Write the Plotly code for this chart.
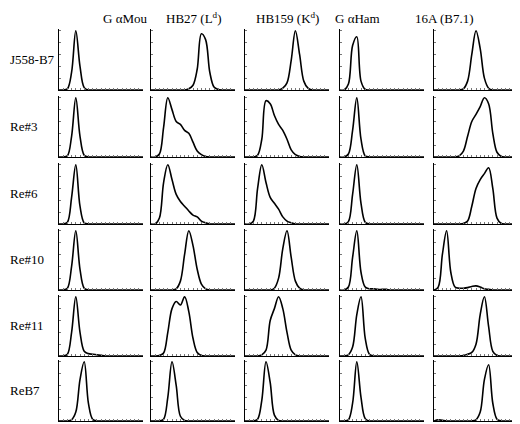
import plotly.graph_objects as go

columns = ["G \u03b1Mou", "HB27 (L<sup>d</sup>)", "HB159 (K<sup>d</sup>)", "G \u03b1Ham", "16A (B7.1)"]
rows = ["J558-B7", "Re#3", "Re#6", "Re#10", "Re#11", "ReB7"]

channel = list(range(21))

# cell counts per channel, one list per row, one entry per column
j558_b7 = [
    [0, 0, 0.02, 0.3, 1.0, 0.4, 0.04, 0, 0, 0, 0, 0, 0, 0, 0, 0, 0, 0, 0, 0, 0],
    [0, 0, 0, 0, 0, 0, 0, 0, 0, 0.02, 0.08, 0.35, 0.95, 0.85, 0.3, 0.05, 0.01, 0, 0, 0, 0],
    [0, 0, 0, 0, 0, 0, 0, 0, 0, 0.03, 0.12, 0.5, 1.0, 0.6, 0.15, 0.03, 0, 0, 0, 0, 0],
    [0, 0, 0.1, 0.75, 0.9, 0.15, 0.01, 0, 0, 0, 0, 0, 0, 0, 0, 0, 0, 0, 0, 0, 0],
    [0, 0, 0, 0, 0, 0, 0, 0.02, 0.15, 0.6, 1.0, 0.7, 0.2, 0.03, 0, 0, 0, 0, 0, 0, 0],
]
re3 = [
    [0, 0, 0.02, 0.35, 1.0, 0.35, 0.03, 0, 0, 0, 0, 0, 0, 0, 0, 0, 0, 0, 0, 0, 0],
    [0, 0, 0.05, 0.5, 1.0, 0.8, 0.6, 0.55, 0.45, 0.4, 0.25, 0.1, 0.04, 0.01, 0, 0, 0, 0, 0, 0, 0],
    [0, 0, 0, 0.03, 0.3, 0.95, 0.9, 0.7, 0.55, 0.45, 0.3, 0.12, 0.04, 0.01, 0, 0, 0, 0, 0, 0, 0],
    [0, 0, 0.05, 0.45, 1.0, 0.3, 0.02, 0, 0, 0, 0, 0, 0, 0, 0, 0, 0, 0, 0, 0, 0],
    [0, 0, 0, 0, 0, 0, 0.02, 0.1, 0.35, 0.6, 0.72, 0.85, 1.0, 0.9, 0.4, 0.08, 0.01, 0, 0, 0, 0],
]
re6 = [
    [0, 0, 0.03, 0.45, 1.0, 0.3, 0.02, 0, 0, 0, 0, 0, 0, 0, 0, 0, 0, 0, 0, 0, 0],
    [0, 0, 0.1, 0.7, 1.0, 0.75, 0.5, 0.38, 0.3, 0.22, 0.15, 0.12, 0.05, 0.02, 0, 0, 0, 0, 0, 0, 0],
    [0, 0, 0.05, 0.6, 1.0, 0.7, 0.45, 0.35, 0.25, 0.12, 0.05, 0.02, 0, 0, 0, 0, 0, 0, 0, 0, 0],
    [0, 0, 0.04, 0.5, 1.0, 0.35, 0.03, 0, 0, 0, 0, 0, 0, 0, 0, 0, 0, 0, 0, 0, 0],
    [0, 0, 0, 0, 0, 0, 0, 0.01, 0.05, 0.3, 0.6, 0.75, 0.85, 0.95, 0.6, 0.1, 0.01, 0, 0, 0, 0],
]
re10 = [
    [0, 0, 0.03, 0.4, 1.0, 0.35, 0.03, 0, 0, 0, 0, 0, 0, 0, 0, 0, 0, 0, 0, 0, 0],
    [0, 0, 0, 0, 0, 0, 0.02, 0.15, 0.6, 1.0, 0.75, 0.35, 0.1, 0.02, 0, 0, 0, 0, 0, 0, 0],
    [0, 0, 0, 0, 0, 0, 0, 0.03, 0.2, 0.7, 1.0, 0.55, 0.15, 0.03, 0, 0, 0, 0, 0, 0, 0],
    [0, 0, 0.05, 0.55, 1.0, 0.3, 0.05, 0.02, 0.02, 0.01, 0.01, 0.01, 0, 0, 0, 0, 0, 0, 0, 0, 0],
    [0, 0.05, 0.6, 1.0, 0.3, 0.05, 0.03, 0.03, 0.04, 0.06, 0.07, 0.05, 0.02, 0.01, 0, 0, 0, 0, 0, 0, 0],
]
re11 = [
    [0, 0, 0.03, 0.4, 1.0, 0.4, 0.08, 0.04, 0.03, 0.02, 0.01, 0, 0, 0, 0, 0, 0, 0, 0, 0, 0],
    [0, 0, 0.01, 0.05, 0.4, 0.8, 0.92, 0.86, 1.0, 0.75, 0.3, 0.06, 0.01, 0, 0, 0, 0, 0, 0, 0, 0],
    [0, 0, 0, 0, 0.02, 0.1, 0.6, 0.8, 1.0, 0.8, 0.4, 0.1, 0.02, 0, 0, 0, 0, 0, 0, 0, 0],
    [0, 0, 0.02, 0.15, 0.7, 1.0, 0.3, 0.03, 0, 0, 0, 0, 0, 0, 0, 0, 0, 0, 0, 0, 0],
    [0, 0, 0, 0, 0, 0, 0, 0.01, 0.03, 0.06, 0.2, 0.7, 1.0, 0.5, 0.08, 0.01, 0, 0, 0, 0, 0],
]
reb7 = [
    [0, 0, 0, 0.02, 0.15, 0.7, 1.0, 0.3, 0.03, 0, 0, 0, 0, 0, 0, 0, 0, 0, 0, 0, 0],
    [0, 0, 0, 0.03, 0.4, 1.0, 0.6, 0.08, 0.01, 0, 0, 0, 0, 0, 0, 0, 0, 0, 0, 0, 0],
    [0, 0, 0, 0.03, 0.35, 1.0, 0.65, 0.1, 0.01, 0, 0, 0, 0, 0, 0, 0, 0, 0, 0, 0, 0],
    [0, 0, 0.02, 0.3, 1.0, 0.4, 0.04, 0, 0, 0, 0, 0, 0, 0, 0, 0, 0, 0, 0, 0, 0],
    [0, 0.02, 0.01, 0, 0, 0, 0, 0, 0, 0, 0.02, 0.15, 0.7, 0.95, 0.3, 0.03, 0, 0, 0, 0, 0],
]
counts = [j558_b7, re3, re6, re10, re11, reb7]

# page body has an 8px margin, so the figure is drawn 8px in and kept 8px smaller
OFF = 8
W, H = 520 - OFF, 424 - OFF
col_left = [59, 151, 245, 340, 434]
col_w = 84
row_bottom = [90, 157, 224, 290, 356, 421]
row_h = 61

fig = go.Figure()
layout = dict(width=W, height=H, margin=dict(l=0, r=0, t=0, b=0),
              plot_bgcolor="white", paper_bgcolor="white", showlegend=False,
              font=dict(family="Liberation Serif", color="black", size=13))
annotations = []

n = 0
for r, row in enumerate(counts):
    for c, y in enumerate(row):
        n += 1
        sfx = "" if n == 1 else str(n)
        fig.add_trace(go.Scatter(x=channel, y=y, mode="lines", line=dict(color="black", width=1.6, shape="spline"),
                                 xaxis="x" + sfx, yaxis="y" + sfx, hoverinfo="skip"))
        x0 = (col_left[c] - OFF) / W
        x1 = (col_left[c] - OFF + col_w) / W
        y0 = 1 - (row_bottom[r] - OFF) / H
        y1 = 1 - (row_bottom[r] - OFF - row_h) / H
        layout["xaxis" + sfx] = dict(domain=[x0, x1], range=[0, 20], anchor="y" + sfx, showgrid=False,
                                     zeroline=False, showline=True, linecolor="black", linewidth=1,
                                     ticks="inside", ticklen=2, dtick=1, tickcolor="#777",
                                     showticklabels=False)
        layout["yaxis" + sfx] = dict(domain=[y0, y1], range=[0, 1.03], anchor="x" + sfx, showgrid=False,
                                     zeroline=False, showline=True, linecolor="black", linewidth=1,
                                     ticks="inside", ticklen=2, dtick=0.2, tickcolor="#777",
                                     showticklabels=False)

for c, name in enumerate(columns):
    annotations.append(dict(text=name, x=(col_left[c] - OFF + col_w / 2) / W, y=1 - (18 - OFF) / H,
                            xref="paper", yref="paper", yanchor="middle",
                            showarrow=False, font=dict(size=13)))
for r, name in enumerate(rows):
    annotations.append(dict(text=name, x=0, y=1 - (row_bottom[r] - OFF - row_h / 2) / H,
                            xref="paper", yref="paper", xanchor="left", yanchor="middle",
                            showarrow=False, font=dict(size=13)))
layout["annotations"] = annotations
fig.update_layout(**layout)
fig.write_html("out.html")
